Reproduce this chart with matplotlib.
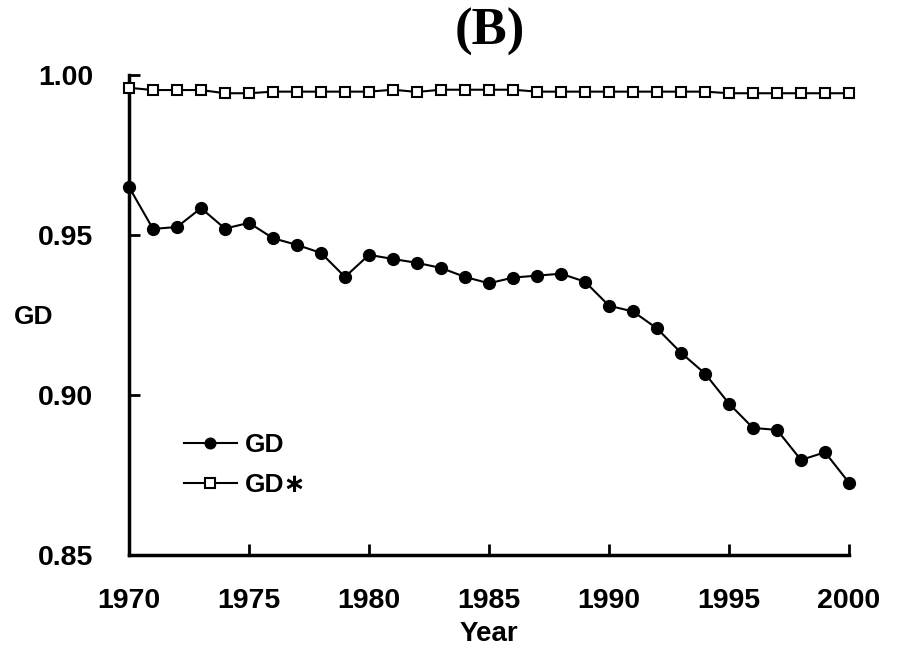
import matplotlib
matplotlib.use("Agg")
import matplotlib.pyplot as plt

years = list(range(1970, 2001))
gd = [0.9650, 0.9519, 0.9525, 0.9584, 0.9520, 0.9538, 0.9490, 0.9469, 0.9444, 0.9369,
      0.9438, 0.9425, 0.9413, 0.9397, 0.9369, 0.9349, 0.9367, 0.9373, 0.9379, 0.9354,
      0.9279, 0.9261, 0.9208, 0.9132, 0.9067, 0.8973, 0.8897, 0.8891, 0.8797, 0.8821,
      0.8726]
gd_star = [0.9960, 0.9953, 0.9953, 0.9953, 0.9943, 0.9943, 0.9948, 0.9948, 0.9948, 0.9948,
           0.9948, 0.9954, 0.9947, 0.9954, 0.9954, 0.9954, 0.9954, 0.9948, 0.9948, 0.9948,
           0.9948, 0.9948, 0.9948, 0.9948, 0.9948, 0.9943, 0.9943, 0.9943, 0.9943, 0.9943,
           0.9943]
xticks = [1970, 1975, 1980, 1985, 1990, 1995, 2000]
yticks = [0.85, 0.90, 0.95, 1.00]
ytick_labels = ["0.85", "0.90", "0.95", "1.00"]

FAM = ["Liberation Sans", "DejaVu Sans"]

fig = plt.figure(figsize=(9.03, 6.5), dpi=100)
ax = fig.add_axes([129/903, 95/650, 720/903, 480/650])

ax.plot(years, gd, color="black", lw=1.5, marker="o", ms=8.5, mfc="black", mec="black",
        label="GD", clip_on=False, zorder=3)
ax.plot(years, gd_star, color="black", lw=1.5, marker="s", ms=7.5, mfc="white", mec="black",
        mew=1.5, label="GD\u2217", clip_on=False, zorder=3)

ax.set_xlim(1970, 2000)
ax.set_ylim(0.85, 1.00)
ax.set_xticks(xticks)
ax.set_yticks(yticks)
ax.set_yticklabels(ytick_labels)

for s in ["top", "right"]:
    ax.spines[s].set_visible(False)
for s in ["left", "bottom"]:
    ax.spines[s].set_linewidth(2.5)

ax.tick_params(axis="both", direction="in", length=8, width=2)
ax.tick_params(axis="x", pad=24)
ax.tick_params(axis="y", pad=26)
for lab in ax.get_xticklabels() + ax.get_yticklabels():
    lab.set_fontfamily(FAM)
    lab.set_fontweight("bold")
    lab.set_fontsize(20.5)

ax.set_xlabel("Year", family=FAM, weight="bold", size=20, labelpad=5)
fig.text(34/903, 1 - 317/650, "GD", ha="center", va="center", family=FAM,
         weight="bold", size=19)

fig.text(490/903, 1 - 32/650, "(B)", ha="center", va="center", family="Liberation Serif",
         weight="bold", size=38)

leg = ax.legend(loc="upper left", bbox_to_anchor=(184/903, 1 - 433/650),
                bbox_transform=fig.transFigure, frameon=False, borderpad=0,
                borderaxespad=0,
                prop=dict(family=FAM, weight="bold", size=19),
                markerscale=0.9, handlelength=2.0, labelspacing=0.62, handletextpad=0.3)

fig.savefig("out.png", dpi=100)
